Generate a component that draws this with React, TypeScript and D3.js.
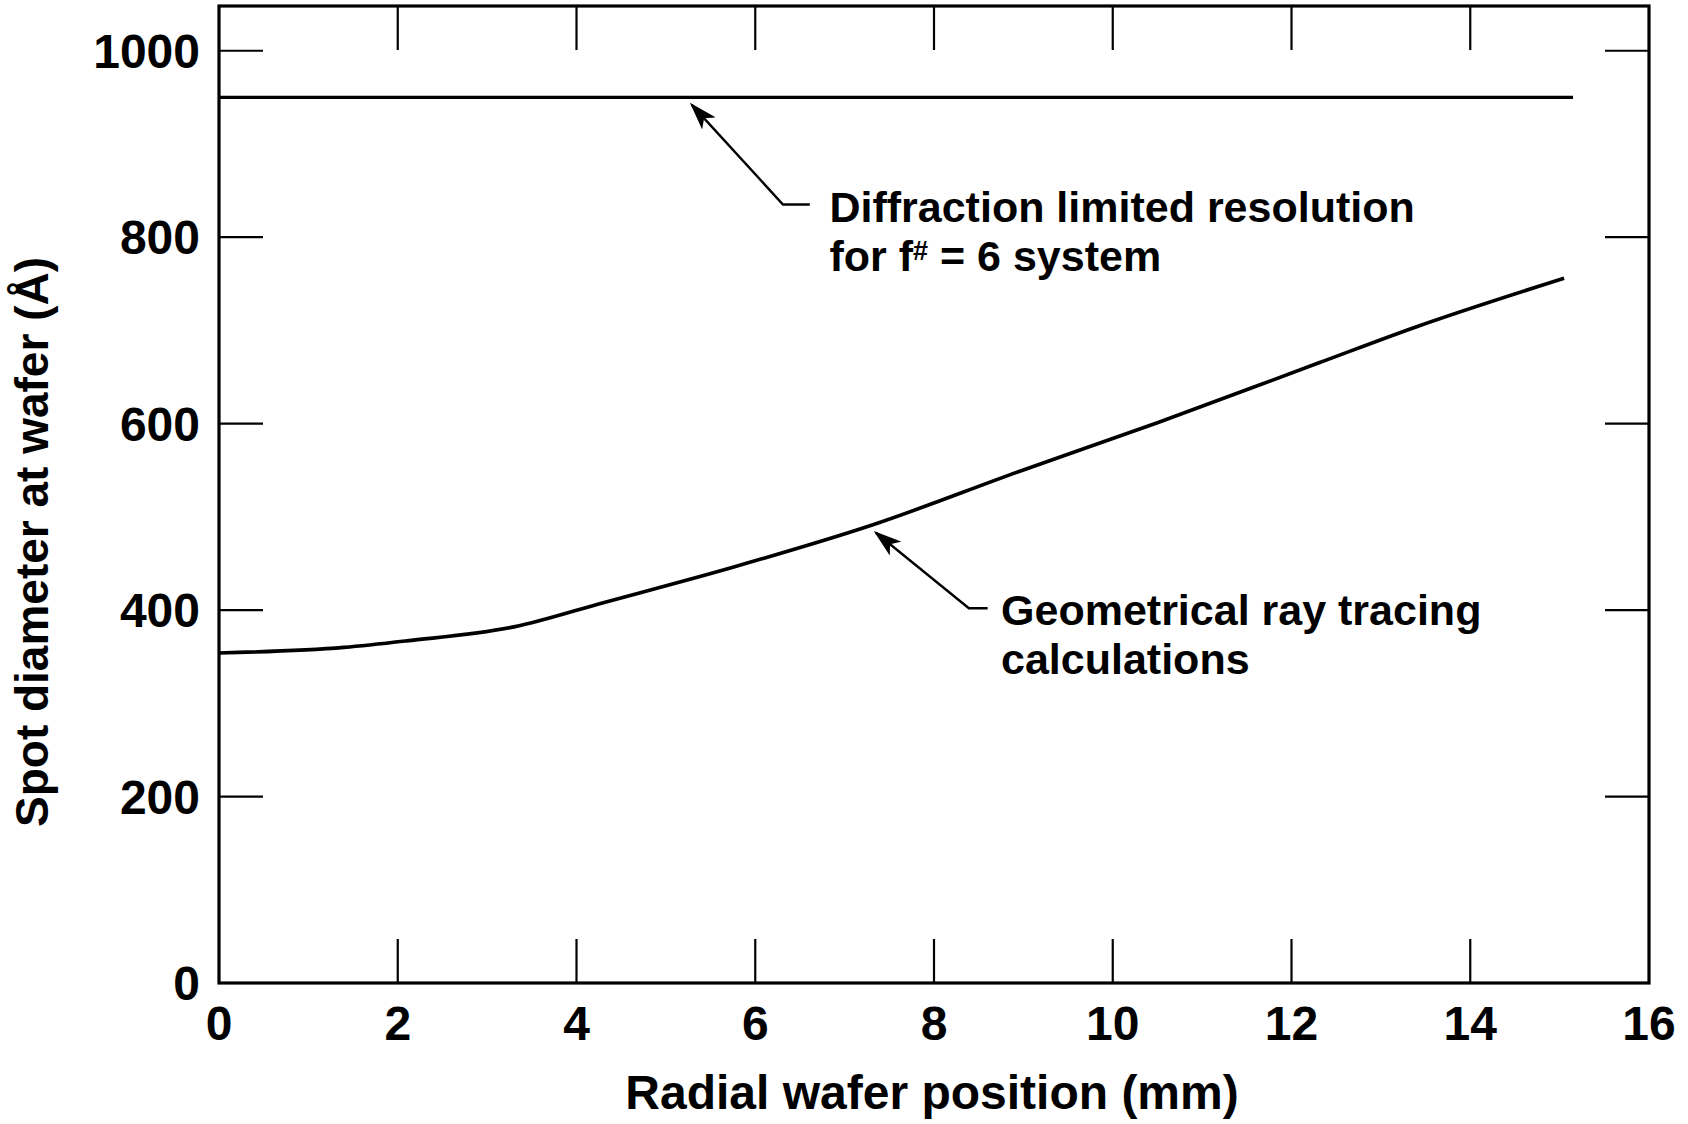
import React, { useEffect, useRef } from "react";
import * as d3 from "d3";

// geometrical ray tracing curve
const radialPos = [0, 1.4, 2.1, 3.3, 4.3, 5.75, 7.3, 8.96, 10.5, 12.3, 13.4, 15.05];
const spotDiameter = [354, 360, 367, 382, 408, 446, 491, 549, 601, 665, 704, 756];

// diffraction limit, flat line
const diffractionX = [0, 15.15];
const diffractionLevel = 950;

const xTicks = [0, 2, 4, 6, 8, 10, 12, 14, 16];
const yTicks = [0, 200, 400, 600, 800, 1000];

// annotation anchors in data units: arrow tip, elbow, end of the short leg, text start
const noteLines = [
  ["Diffraction limited resolution", "for f# = 6 system"],
  ["Geometrical ray tracing", "calculations"],
];
const noteTip = [[5.29, 942], [7.35, 483]];
const noteElbow = [[6.31, 835], [8.39, 402]];
const noteLegEnd = [6.61, 8.6];
const noteTextX = [6.83, 8.75];

export default function App() {
  const ref = useRef<SVGSVGElement>(null);

  useEffect(() => {
    const width = 1688, height = 1124;
    const margin = { top: 6, right: 39, bottom: 141, left: 219 };
    const font = "'Liberation Sans', Arial, Helvetica, sans-serif";

    const svg = d3.select(ref.current);
    svg.selectAll("*").remove();

    const x = d3.scaleLinear().domain([0, 16]).range([margin.left, width - margin.right]);
    const y = d3.scaleLinear().domain([0, 1048]).range([height - margin.bottom, margin.top]);

    const x0 = x.range()[0], x1 = x.range()[1];
    const y0 = y.range()[0], y1 = y.range()[1];
    const tickLen = 44;

    // arrowhead
    svg.append("defs").append("marker")
      .attr("id", "head")
      .attr("viewBox", "0 0 10 10")
      .attr("refX", 9).attr("refY", 5)
      .attr("markerWidth", 28).attr("markerHeight", 18)
      .attr("markerUnits", "userSpaceOnUse")
      .attr("orient", "auto-start-reverse")
      .attr("preserveAspectRatio", "none")
      .append("path")
      .attr("d", "M0,0 L10,5 L0,10 L2.5,5 Z")
      .attr("fill", "#000");

    // ticks on all four sides, pointing inward
    const g = svg.append("g").attr("stroke", "#000").attr("stroke-width", 2.2);
    xTicks.slice(1, -1).forEach((t) => {
      g.append("line").attr("x1", x(t)).attr("x2", x(t)).attr("y1", y0).attr("y2", y0 - tickLen);
      g.append("line").attr("x1", x(t)).attr("x2", x(t)).attr("y1", y1).attr("y2", y1 + tickLen);
    });
    yTicks.slice(1).forEach((t) => {
      g.append("line").attr("x1", x0).attr("x2", x0 + tickLen).attr("y1", y(t)).attr("y2", y(t));
      g.append("line").attr("x1", x1).attr("x2", x1 - tickLen).attr("y1", y(t)).attr("y2", y(t));
    });

    // frame
    svg.append("rect")
      .attr("x", x0).attr("y", y1)
      .attr("width", x1 - x0).attr("height", y0 - y1)
      .attr("fill", "none").attr("stroke", "#000").attr("stroke-width", 3.2);

    // tick labels
    svg.append("g").selectAll("text")
      .data(xTicks).enter().append("text")
      .attr("x", (d) => x(d)).attr("y", y0 + 57)
      .attr("text-anchor", "middle")
      .attr("font-family", font).attr("font-weight", "bold").attr("font-size", 48)
      .text((d) => d);

    svg.append("g").selectAll("text")
      .data(yTicks).enter().append("text")
      .attr("x", x0 - 19).attr("y", (d) => y(d))
      .attr("dy", "0.36em")
      .attr("text-anchor", "end")
      .attr("font-family", font).attr("font-weight", "bold").attr("font-size", 48)
      .text((d) => d);

    // axis titles
    svg.append("text")
      .attr("x", (x0 + x1) / 2 - 2).attr("y", 1109)
      .attr("text-anchor", "middle")
      .attr("font-family", font).attr("font-weight", "bold").attr("font-size", 48)
      .text("Radial wafer position (mm)");

    svg.append("text")
      .attr("transform", "translate(48,542) rotate(-90)")
      .attr("text-anchor", "middle")
      .attr("font-family", font).attr("font-weight", "bold").attr("font-size", 46)
      .text("Spot diameter at wafer (Å)");

    // diffraction limit
    svg.append("line")
      .attr("x1", x(diffractionX[0])).attr("x2", x(diffractionX[1]))
      .attr("y1", y(diffractionLevel)).attr("y2", y(diffractionLevel))
      .attr("stroke", "#000").attr("stroke-width", 3.2);

    // ray tracing curve
    const line = d3.line<number>()
      .x((d, i) => x(radialPos[i]))
      .y((d) => y(d))
      .curve(d3.curveMonotoneX);

    svg.append("path")
      .attr("d", line(spotDiameter))
      .attr("fill", "none")
      .attr("stroke", "#000")
      .attr("stroke-width", 3.6)
      .attr("stroke-linejoin", "round");

    // annotations
    noteLines.forEach((lines, i) => {
      const [tx, ty] = noteTip[i];
      const [ex, ey] = noteElbow[i];
      svg.append("polyline")
        .attr("points", `${x(noteLegEnd[i])},${y(ey)} ${x(ex)},${y(ey)} ${x(tx)},${y(ty)}`)
        .attr("fill", "none")
        .attr("stroke", "#000")
        .attr("stroke-width", 2.4)
        .attr("marker-end", "url(#head)");

      const text = svg.append("text")
        .attr("font-family", font).attr("font-weight", "bold").attr("font-size", 43);
      lines.forEach((s, j) => {
        const ts = text.append("tspan")
          .attr("x", x(noteTextX[i]))
          .attr("y", y(ey) + 17 + j * 49);
        if (s.includes("#")) {
          const [a, b] = s.split("#");
          ts.append("tspan").text(a);
          ts.append("tspan").attr("font-size", 27).attr("dy", -11).text("#");
          ts.append("tspan").attr("dy", 11).text(b);
        } else {
          ts.text(s);
        }
      });
    });
  }, []);

  return (
    <svg
      ref={ref}
      width={1688}
      height={1124}
      style={{ position: "absolute", left: 0, top: 0, background: "#fff" }}
    />
  );
}
